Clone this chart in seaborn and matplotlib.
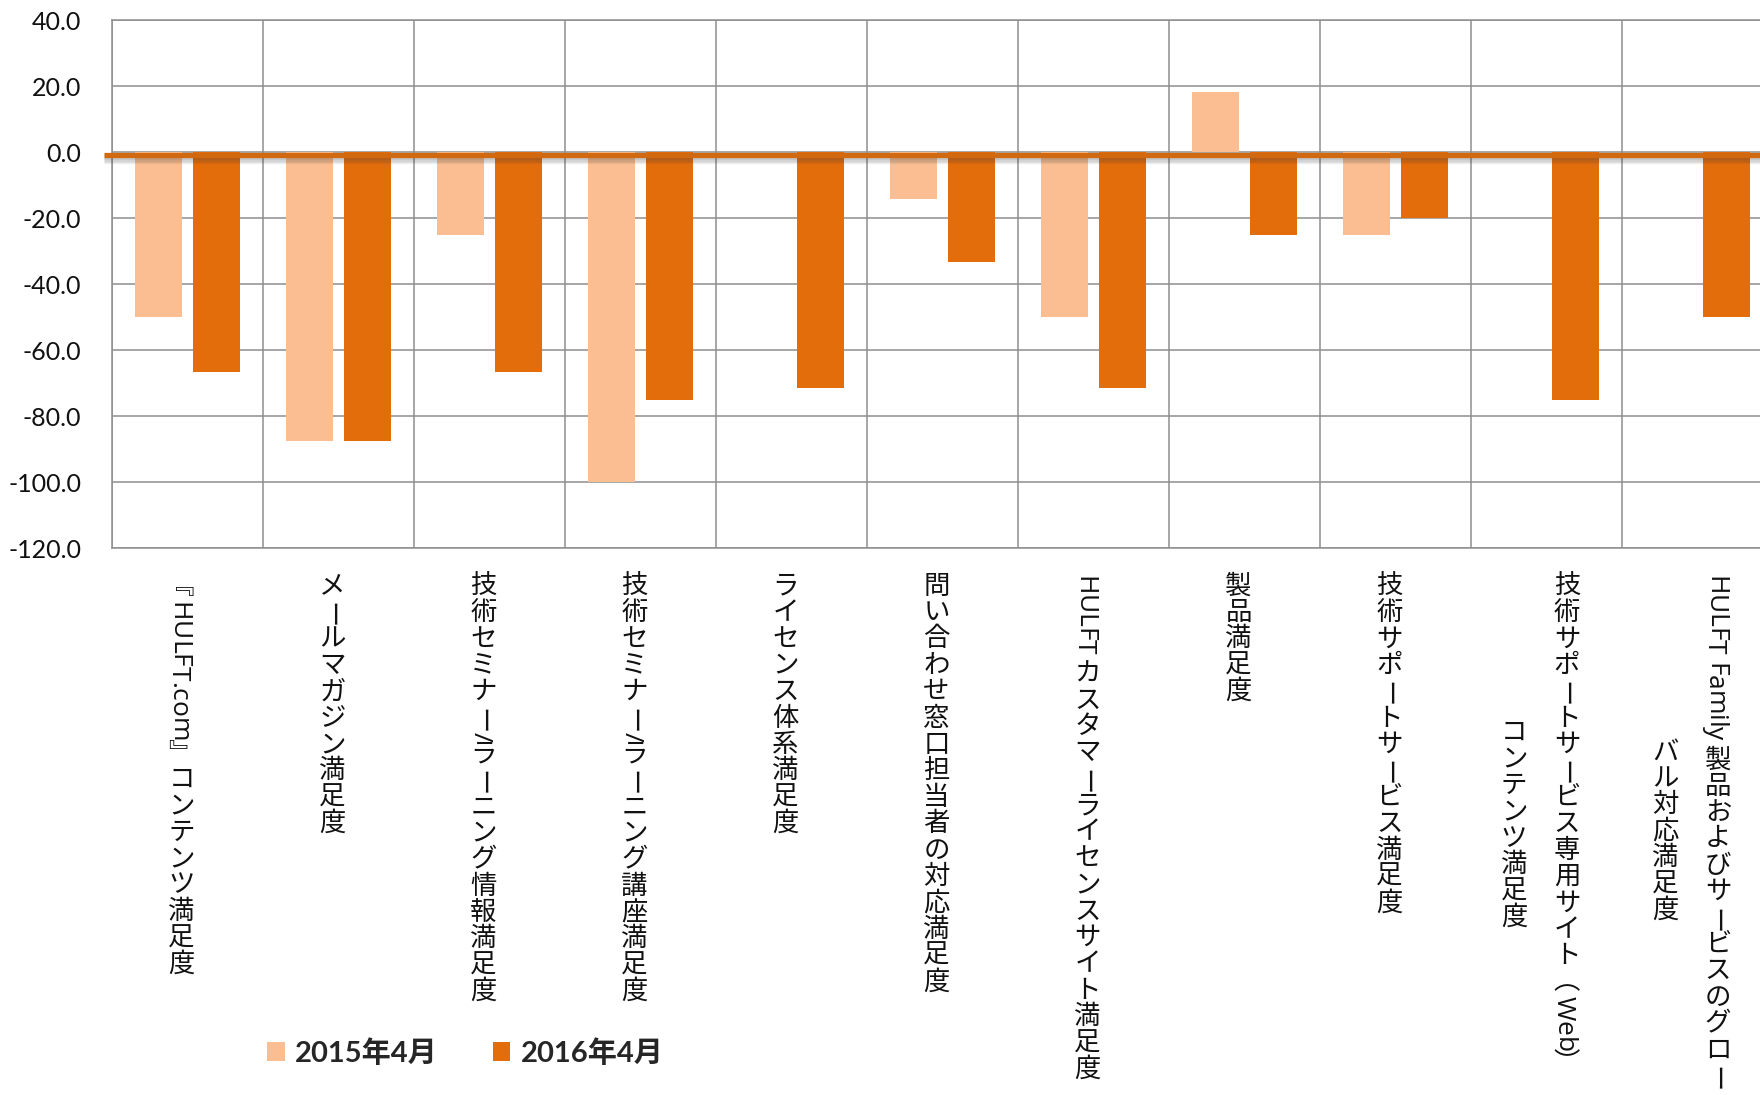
import numpy as np
import pandas as pd
import matplotlib
matplotlib.use("Agg")
import matplotlib.pyplot as plt
import matplotlib.transforms as mtransforms
import matplotlib.patheffects as pe
from matplotlib.font_manager import FontProperties, findfont
from matplotlib.ft2font import FT2Font
from matplotlib.ticker import FormatStrFormatter, FixedLocator
import seaborn as sns

# ---- data -------------------------------------------------------------
items = [
    "『HULFT.com』コンテンツ満足度",
    "メールマガジン満足度",
    "技術セミナー/ラーニング情報満足度",
    "技術セミナー/ラーニング講座満足度",
    "ライセンス体系満足度",
    "問い合わせ窓口担当者の対応満足度",
    "HULFT カスタマーライセンスサイト満足度",
    "製品満足度",
    "技術サポートサービス満足度",
    "技術サポートサービス専用サイト（Web）\nコンテンツ満足度",
    "HULFT Family 製品およびサービスのグロー\nバル対応満足度",
]
periods = ["2015年4月", "2016年4月"]
score_2015 = [-50.0, -87.5, -25.0, -100.0, 0.0, -14.3, -50.0, 18.2, -25.0, 0.0, 0.0]
score_2016 = [-66.7, -87.5, -66.7, -75.0, -71.4, -33.3, -71.4, -25.0, -20.0, -75.0, -50.0]
y_ticks = [40, 20, 0, -20, -40, -60, -80, -100, -120]

# ---- style ------------------------------------------------------------
LIGHT = "#FBBE92"
DARK = "#E36C0B"
AXIS_ORANGE = "#D0690F"
GRID = "#8E8E8E"
JP = "Noto Sans CJK JP"
LATIN = "Open Sans"

sns.set_style("white")
plt.rcParams["font.family"] = ["Lato", JP, "DejaVu Sans"]
plt.rcParams["axes.unicode_minus"] = False

df = pd.DataFrame({
    "item": items * 2,
    "period": [periods[0]] * len(items) + [periods[1]] * len(items),
    "score": score_2015 + score_2016,
})

fig = plt.figure(figsize=(17.6, 10.95), dpi=100)
ax = fig.add_axes([112 / 1760, 1 - 548 / 1095, 1661 / 1760, 528 / 1095])

sns.barplot(data=df, x="item", y="score", hue="period", order=items,
            hue_order=periods, palette=[LIGHT, DARK], saturation=1,
            width=0.76, gap=0.18, linewidth=0, errorbar=None, ax=ax)

ax.set_xlim(-0.5, len(items) - 0.5)
ax.set_ylim(-120, 40)
ax.set_xlabel("")
ax.set_ylabel("")

# grid: horizontal at every tick, vertical at category boundaries
ax.yaxis.set_major_locator(FixedLocator(y_ticks))
ax.yaxis.set_major_formatter(FormatStrFormatter("%.1f"))
ax.xaxis.set_minor_locator(FixedLocator(np.arange(-0.5, len(items), 1.0)))
ax.set_axisbelow(True)
ax.grid(True, axis="y", which="major", color=GRID, linewidth=1.1)
ax.grid(True, axis="x", which="minor", color=GRID, linewidth=1.1)
ax.grid(False, axis="x", which="major")
ax.tick_params(axis="x", which="both", length=0, labelbottom=False)
ax.tick_params(axis="y", which="major", length=6, width=1.1, color=GRID,
               pad=16, labelsize=18, labelcolor="#111111", direction="out")
for lab in ax.get_yticklabels():
    lab.set_family("Lato")
for side in ["left", "top", "bottom", "right"]:
    ax.spines[side].set_color(GRID)
    ax.spines[side].set_linewidth(1.1)

# thick orange zero axis with a soft drop shadow
zero_tr = (mtransforms.blended_transform_factory(ax.transAxes, ax.transData)
           + mtransforms.ScaledTranslation(0, -2.5 / 100, fig.dpi_scale_trans))
shadow = [pe.SimpleLineShadow(offset=(0, -k), shadow_color="#404040", alpha=0.08)
          for k in (1.0, 2.0, 3.0, 4.0, 5.0)]
ax.plot([-8 / 1661, 1.0], [0, 0], transform=zero_tr, color=AXIS_ORANGE,
        lw=3.8, solid_capstyle="butt", clip_on=False, zorder=4,
        path_effects=shadow + [pe.Normal()])

# ---- vertical (tategaki) category labels ------------------------------
FS = 19.0          # label font size in points
PT_PER_PX = 0.72   # at 100 dpi
ft_jp = FT2Font(findfont(FontProperties(family=JP)))
ft_jp.set_size(FS, 72)
ft_lat = FT2Font(findfont(FontProperties(family=LATIN)))
ft_lat.set_size(FS, 72)

# full-width brackets are set with their vertical presentation forms
VERTICAL_FORMS = {"『": "\ufe43", "』": "\ufe44", "（": "\ufe35", "）": "\ufe36"}


def upright(ch):
    cp = ord(ch)
    if ch == "ー":
        return False
    return (0x3040 <= cp <= 0x30FF) or (0x4E00 <= cp <= 0x9FFF)


def is_latin(ch):
    return ord(ch) < 0x2000


def glyph(ch):
    face = ft_lat if is_latin(ch) else ft_jp
    return face.load_char(ord(ch))


def advance(ch):
    if upright(ch) or ch in VERTICAL_FORMS:
        return FS
    return glyph(ch).linearHoriAdvance / 65536.0


def bearing(ch):
    return glyph(ch).horiBearingX / 64.0


def line_length(line):
    return sum(advance(ch) for ch in line)


lab_tr = mtransforms.blended_transform_factory(ax.transData, ax.transAxes)
top_pt = 25 * PT_PER_PX
pitch = 53 * PT_PER_PX
group_shift = -6 * PT_PER_PX
INK = "#111111"

for i, label in enumerate(items):
    lines = label.split("\n")
    lengths = [line_length(l) for l in lines]
    lmax = max(lengths)
    n = len(lines)
    for j, (line, L) in enumerate(zip(lines, lengths)):
        col_x = group_shift + (n - 1) / 2 * pitch - j * pitch
        pos = top_pt + (lmax - L) / 2
        for ch in line:
            if upright(ch) or ch in VERTICAL_FORMS:
                # kana, kanji and vertical brackets: one em cell each
                ax.annotate(VERTICAL_FORMS.get(ch, ch), xy=(i, 0),
                            xycoords=lab_tr,
                            xytext=(col_x, -(pos + FS / 2)),
                            textcoords="offset points", ha="center",
                            va="center", annotation_clip=False,
                            fontsize=FS, family=[JP, "DejaVu Sans"], color=INK)
            elif ch != " ":
                # latin letters, slash and the long-vowel bar lie sideways
                ax.annotate(ch, xy=(i, 0), xycoords=lab_tr,
                            xytext=(col_x - 0.38 * FS, -(pos + bearing(ch))),
                            textcoords="offset points", rotation=-90,
                            rotation_mode="anchor", ha="left",
                            va="baseline", annotation_clip=False,
                            fontsize=FS, family=LATIN if is_latin(ch) else JP,
                            color=INK)
            pos += advance(ch)

# ---- legend -----------------------------------------------------------
handles, labels = ax.get_legend_handles_labels()
if ax.get_legend() is not None:
    ax.get_legend().remove()
fig.legend(handles, labels, loc="center left",
           bbox_to_anchor=(267 / 1760, 1 - 1053 / 1095),
           bbox_transform=fig.transFigure, ncol=2, frameon=False,
           prop=FontProperties(family=["Lato", JP], weight="bold", size=21),
           handlelength=0.6, handleheight=0.6, handletextpad=0.35,
           columnspacing=1.9, borderpad=0, borderaxespad=0)

fig.savefig("out.png", dpi=100, facecolor="white")
